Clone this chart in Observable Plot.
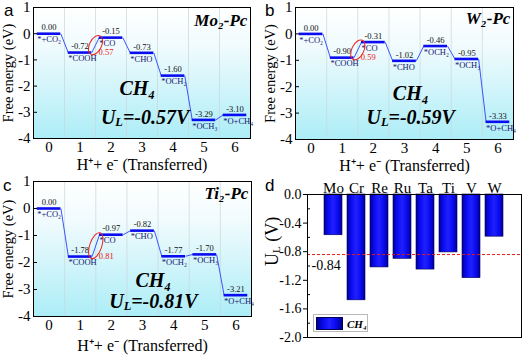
<!DOCTYPE html>
<html><head><meta charset="utf-8">
<script src="https://cdn.jsdelivr.net/npm/d3@7"></script>
<script src="https://cdn.jsdelivr.net/npm/@observablehq/plot@0.6"></script>
<style>
body{margin:0;background:#fff;}
#fig{position:relative;width:524px;height:355px;overflow:hidden;font-family:"Liberation Serif","Times New Roman",serif;}
.panel{position:absolute;}
.letter{position:absolute;font-family:"Liberation Sans",Arial,sans-serif;font-size:17px;line-height:1;}
#legend{position:absolute;left:313px;top:314px;width:55px;height:18px;border:1px solid #b8b8b8;background:#fff;box-sizing:border-box;}
#legend .sw{position:absolute;left:2px;top:2px;width:27px;height:13px;border:1px solid #00005a;box-sizing:border-box;background:linear-gradient(to right,#000090,#0a0af0 25%,#2020ff 50%,#0a0af0 75%,#000090);}
#legend .lb{position:absolute;left:33px;top:1px;font-size:11px;font-weight:bold;font-style:italic;line-height:16px;}
</style></head><body>
<svg width="0" height="0" style="position:absolute"><defs>
<linearGradient id="bgGrad" x1="0" y1="0" x2="0" y2="1">
<stop offset="0" stop-color="#ffffff"/><stop offset="0.3" stop-color="#f0fbfd"/><stop offset="1" stop-color="#acedf7"/>
</linearGradient>
<linearGradient id="barGrad" x1="0" y1="0" x2="1" y2="0">
<stop offset="0" stop-color="#000090"/><stop offset="0.22" stop-color="#0a0af0"/><stop offset="0.5" stop-color="#2020ff"/><stop offset="0.78" stop-color="#0a0af0"/><stop offset="1" stop-color="#000090"/>
</linearGradient>
</defs></svg>
<div id="fig">
<div class="letter" style="left:4px;top:2px">a</div>
<div class="letter" style="left:265px;top:2px">b</div>
<div class="letter" style="left:3px;top:177px">c</div>
<div class="letter" style="left:265px;top:177px">d</div>
</div>
<script>
// ---------- data ----------
const steps = [0, 1, 2, 3, 4, 5, 6];
const species = ["*+CO₂", "*COOH", "*CO", "*CHO", "*OCH₂", "*OCH₃", "*O+CH₄"];
const energyMo = [0.00, -0.72, -0.15, -0.73, -1.60, -3.29, -3.10];
const energyW  = [0.00, -0.90, -0.31, -1.02, -0.46, -0.95, -3.33];
const energyTi = [0.00, -1.78, -0.97, -0.82, -1.77, -1.70, -3.21];
const catalysts = ["Mo₂-Pc", "W₂-Pc", "Ti₂-Pc"];
const limitingFrom = [1, 1, 1];
const limitingValue = [0.57, 0.59, 0.81];
const product = "CH₄";
const yTicksEnergy = [-4, -3, -2, -1, 0, 1];

const metals = ["Mo", "Cr", "Re", "Ru", "Ta", "Ti", "V", "W"];
const ulValues = [-0.57, -1.48, -1.02, -0.90, -1.05, -0.81, -1.17, -0.59];
const ulThreshold = -0.84;
const yTicksUL = [0.0, -0.4, -0.8, -1.2, -1.6, -2.0];
const yMinorUL = [-0.2, -0.6, -1.0, -1.4, -1.8];

// ---------- helpers ----------
const fig = document.getElementById("fig");
const FONT = "'Liberation Serif','Times New Roman',serif";
const ellipseSymbol = {
  draw(ctx, size) {
    const rx = Math.sqrt(size / Math.PI), ry = 6, k = 0.5523;
    ctx.moveTo(rx, 0);
    ctx.bezierCurveTo(rx, k * ry, k * rx, ry, 0, ry);
    ctx.bezierCurveTo(-k * rx, ry, -rx, k * ry, -rx, 0);
    ctx.bezierCurveTo(-rx, -k * ry, -k * rx, -ry, 0, -ry);
    ctx.bezierCurveTo(k * rx, -ry, rx, -k * ry, rx, 0);
    ctx.closePath();
  }
};
function subL(svg, cls) {
  d3.select(svg).selectAll(`g.${cls} text`).each(function () {
    const t = this.textContent; // "UL..."
    const rest = t.slice(2);
    const sel = d3.select(this);
    sel.text(null);
    sel.append("tspan").text("U");
    sel.append("tspan").attr("font-size", "0.62em").attr("dy", "0.18em").text("L");
    sel.append("tspan").attr("dy", "-0.11em").text(rest);
  });
}
function place(svg, left, top) {
  const d = document.createElement("div");
  d.className = "panel";
  d.style.left = left + "px"; d.style.top = top + "px";
  d.appendChild(svg);
  fig.appendChild(d);
}

function energyPanel(idx, energies, o) {
  const half = 0.38;
  const levels = energies.map((g, i) => ({step: steps[i], g, sp: species[i]}));
  const kx = (o.w - o.ml - o.mr) / 7, ky = (o.h - o.mt - o.mb) / 5;
  const a = levels[limitingFrom[idx]], b = levels[limitingFrom[idx] + 1];
  const dxp = (b.step - a.step - 2 * half) * kx, dyp = (b.g - a.g) * ky;
  const mid = {x: (a.step + half + b.step - half) / 2, y: (a.g + b.g) / 2};
  const rEll = Math.hypot(dxp, dyp) / 2 + 2;
  const rot = -Math.atan2(dyp, dxp) * 180 / Math.PI;
  const ul = "UL=-" + limitingValue[idx].toFixed(2) + "V";
  const svg = Plot.plot({
    width: o.w, height: o.h,
    marginLeft: o.ml, marginRight: o.mr, marginTop: o.mt, marginBottom: o.mb,
    style: {fontFamily: FONT, fontSize: "15px", color: "#000", background: "transparent", overflow: "visible"},
    x: {domain: [-0.5, 6.5]},
    y: {domain: [-4, 1]},
    marks: [
      Plot.frame({fill: "url(#bgGrad)"}),
      Plot.ruleX(steps.slice(0, -1), {x: d => d + 0.5, stroke: "#c9d6da", strokeWidth: 0.7}),
      Plot.link(d3.pairs(levels), {
        x1: ([p]) => p.step + half, y1: ([p]) => p.g,
        x2: ([, q]) => q.step - half, y2: ([, q]) => q.g,
        stroke: "#3a55ff", strokeWidth: 1
      }),
      Plot.ruleY(levels, {y: "g", x1: d => d.step - half, x2: d => d.step + half, stroke: "#0c0cf0", strokeWidth: 2.6}),
      Plot.text(levels, {x: "step", y: "g", text: d => d.g.toFixed(2), dy: -6, fontSize: 8.5, fill: "#111"}),
      Plot.text(levels, {x: d => d.step - half, y: "g", text: "sp", textAnchor: "start", dy: 6, fontSize: 8.5, fill: "#16166e"}),
      Plot.dot([mid], {x: "x", y: "y", r: rEll, rotate: rot, symbol: ellipseSymbol, stroke: "#ee2020", strokeWidth: 1, fill: "none"}),
      Plot.text([a], {x: mid.x, y: "g", text: () => limitingValue[idx].toFixed(2), textAnchor: "start", dx: 3, dy: 0, fill: "#ee1111", fontSize: 8.5}),
      Plot.text([catalysts[idx]], {x: 6.4, y: o.titleY, text: d => d, textAnchor: "end", fontWeight: "bold", fontStyle: "italic", fontSize: 17}),
      Plot.text([product], {x: o.chX, y: o.chY, text: d => d, fontWeight: "bold", fontStyle: "italic", fontSize: 20}),
      Plot.text([ul], {x: o.ulX, y: o.ulY, text: d => d, fontWeight: "bold", fontStyle: "italic", fontSize: 20, className: "ul" + idx}),
      Plot.frame({stroke: "#000", strokeWidth: 1}),
      Plot.axisX(steps, {tickSize: 0, tickPadding: o.xpad, tickFormat: d => String(d), label: "H⁺+ e⁻ (Transferred)", labelAnchor: "center", labelArrow: "none", labelOffset: o.xlab}),
      Plot.axisY(yTicksEnergy, {tickSize: -4, tickPadding: 7, tickFormat: d => String(d), label: "Free energy (eV)", labelAnchor: "center", labelArrow: "none", labelOffset: 31})
    ]
  });
  subL(svg, "ul" + idx);
  d3.select(svg).selectAll("g[aria-label='x-axis label'] text").attr("font-size", 16);
  d3.select(svg).selectAll("g[aria-label='y-axis label'] text").attr("font-size", 14.5);
  return svg;
}

place(energyPanel(0, energyMo, {w: 262, h: 175, ml: 33, mr: 12, mt: 7, mb: 37, xpad: 3, xlab: 31, chX: 2.85, chY: -2.1, ulX: 3.1, ulY: -3.2, titleY: 0.52}), 0, 0);
place(energyPanel(1, energyW, {w: 262, h: 175, ml: 33, mr: 11, mt: 7, mb: 36, xpad: 3, xlab: 31, chX: 3.2, chY: -2.25, ulX: 3.2, ulY: -3.16, titleY: 0.58}), 262, 0);
place(energyPanel(2, energyTi, {w: 262, h: 180, ml: 33, mr: 11, mt: 6, mb: 39, xpad: 3, xlab: 34, chX: 3.35, chY: -2.68, ulX: 3.35, ulY: -3.45, titleY: 0.55}), 0, 175);

// ---------- panel d ----------
const ulData = metals.map((m, i) => ({metal: m, ul: ulValues[i]}));
const svgD = Plot.plot({
  width: 262, height: 180,
  marginLeft: 45, marginRight: 3, marginTop: 19, marginBottom: 18,
  style: {fontFamily: FONT, fontSize: "14px", color: "#000", background: "transparent"},
  x: {domain: metals, paddingInner: 0.2, paddingOuter: 0.59},
  y: {domain: [-2, 0]},
  marks: [
    Plot.barY(ulData, {x: "metal", y: "ul", fill: "url(#barGrad)", stroke: "#00005a", strokeWidth: 0.6}),
    Plot.ruleY([ulThreshold], {stroke: "#e41a1a", strokeDasharray: "3,2", strokeWidth: 1}),
    Plot.text([ulThreshold], {y: d => d, frameAnchor: "left", dx: 4, dy: 11, textAnchor: "start", text: d => d.toFixed(2), fontSize: 14}),
    Plot.frame({stroke: "#000", strokeWidth: 1}),
    Plot.axisX({anchor: "top", tickSize: 0, tickPadding: 2, label: null, fontSize: 15}),
    Plot.axisY(yTicksUL, {tickSize: 4, tickPadding: 2, tickFormat: d => d.toFixed(1), label: null}),
    Plot.axisY(yMinorUL, {tickSize: -3, tickFormat: () => "", label: null}),
    Plot.text(["UL (V)"], {frameAnchor: "left", dx: -35, rotate: -90, text: d => d, fontSize: 18, className: "uly"})
  ]
});
subL(svgD, "uly");
place(svgD, 262, 175);

const lg = document.createElement("div");
lg.id = "legend";
lg.innerHTML = '<div class="sw"></div><div class="lb">CH₄</div>';
fig.appendChild(lg);
</script>
</body></html>
